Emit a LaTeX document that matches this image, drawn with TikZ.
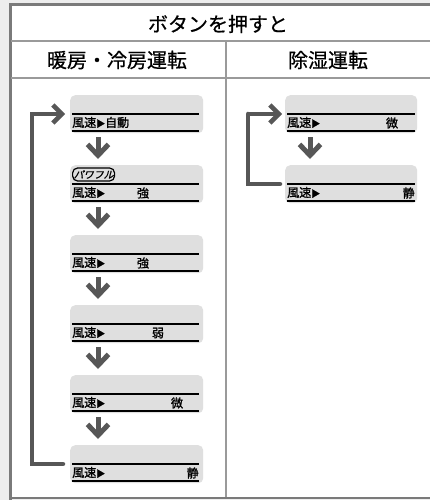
\documentclass[tikz,border=0pt]{standalone}
\usepackage{fontspec}
\setmainfont{Noto Sans CJK JP}
\newfontfamily\headfont{Noto Sans CJK JP}[FakeBold=0.6]
\newfontfamily\boxfont{Noto Sans CJK JP}[FakeBold=1.2]
\newfontfamily\slantfont{Noto Sans CJK JP}[FakeSlant=0.25,FakeBold=1.2]
\usetikzlibrary{arrows.meta}
\definecolor{bgc}{HTML}{EDEDED}
\definecolor{framec}{HTML}{7A7A7A}
\definecolor{divc}{HTML}{9A9A9A}
\definecolor{panelc}{HTML}{DFDFDF}
\definecolor{arrc}{HTML}{575757}
\tikzset{
  panel/.style={fill=panelc, rounded corners=5pt, minimum width=133pt, minimum height=38pt, inner sep=0pt, anchor=north west},
  rpanel/.style={panel, minimum width=132pt},
  bar/.style={draw=black, line width=1.6pt},
  txt/.style={font=\boxfont\fontsize{12}{12}\selectfont, inner sep=0pt},
  head/.style={font=\headfont\fontsize{20}{20}\selectfont, inner sep=0pt},
  darr/.style={draw=arrc, line width=5pt, -{Straight Barb[length=11pt,width=21pt,line width=5pt]}},
  rarr/.style={draw=arrc, line width=4.5pt, -{Straight Barb[length=9pt,width=18pt,line width=4.5pt]}},
  loopline/.style={draw=arrc, line width=4.5pt, line cap=round},
}
\newcommand{\tri}{{\fontsize{9}{9}\selectfont ▶}}
\begin{document}
\begin{tikzpicture}[x=1pt,y=-1pt]
\useasboundingbox (0,0) rectangle (430,500);
\fill[bgc] (0,0) rectangle (430,500);
\fill[white] (10,5) rectangle (430,498);
% frame
\draw[framec, line width=1.5pt] (10,498) -- (430,498);
\draw[framec, line width=3pt] (10.5,500) -- (10.5,5) -- (430,5);
\draw[divc, line width=1.5pt] (11,41) -- (430,41);
\draw[divc, line width=1.2pt] (11,78) -- (430,78);
\draw[divc, line width=1.2pt] (226,41) -- (226,497);
\node[head] (title) at (218,24) {ボタンを押すと};
\node[head] (h1) at (117,60) {暖房・冷房運転};
\node[head] (h2) at (328,60) {除湿運転};
% left panels
\foreach \i/\y in {1/95,2/165,3/235,4/305,5/375,6/445}{
  \node[panel] (L\i) at (70,\y) {};
  \draw[bar] (72,\y+19) -- (199,\y+19);
  \draw[bar] (72,\y+36) -- (199,\y+36);
}
\foreach \i/\y in {2/165,3/235,4/305,5/375,6/445}{
  \node[txt, anchor=base west] (s\i) at (72,\y+32) {風速\tri};
}
\foreach \i/\y in {1/95,2/165}{
  \node[rpanel] (R\i) at (285,\y) {};
  \draw[bar] (287,\y+19) -- (415,\y+19);
  \draw[bar] (287,\y+36) -- (415,\y+36);
  \node[txt, anchor=base west] (rs\i) at (287,\y+32) {風速\tri};
}
\node[txt, anchor=base west] (s1) at (72,127) {風速\tri 自動};
\node[txt] at (143,193) {強};
\node[txt] at (143,263) {強};
\node[txt] at (158,333) {弱};
\node[txt] at (177,403) {微};
\node[txt, anchor=east] at (199,473) {静};
\node[txt] at (392,123) {微};
\node[txt, anchor=east] at (415,193) {静};
\node[draw=black, line width=1.2pt, rounded corners=5pt, inner xsep=1pt, inner ysep=0pt, minimum width=40pt, minimum height=13pt, anchor=west, font=\slantfont\fontsize{10}{10}\selectfont] (pw) at (72,174.5) {パワフル};
% down arrows
\foreach \a/\b in {1/2,2/3,3/4,4/5,5/6}{
  \draw[darr, shorten <=4pt, shorten >=6pt] ([xshift=28pt]L\a.south west) -- ([xshift=28pt]L\b.north west);
}
\draw[darr, shorten <=4pt, shorten >=6pt] ([xshift=25pt]R1.south west) -- ([xshift=25pt]R2.north west);
% loops
\coordinate (lb) at (32,464);
\coordinate (lt) at (32,114);
\draw[loopline] ([xshift=-7pt,yshift=-19pt]L6.north west) -- (lb) -- (lt) -- (52,114);
\draw[rarr] (lt) -- ([xshift=-5pt,yshift=-19pt]L1.north west);
\coordinate (rb) at (248,184);
\coordinate (rt) at (248,114);
\draw[loopline] ([xshift=-5pt,yshift=-19pt]R2.north west) -- (rb) -- (rt);
\draw[rarr] (rt) -- ([xshift=-3pt,yshift=-19pt]R1.north west);
\end{tikzpicture}
\end{document}
